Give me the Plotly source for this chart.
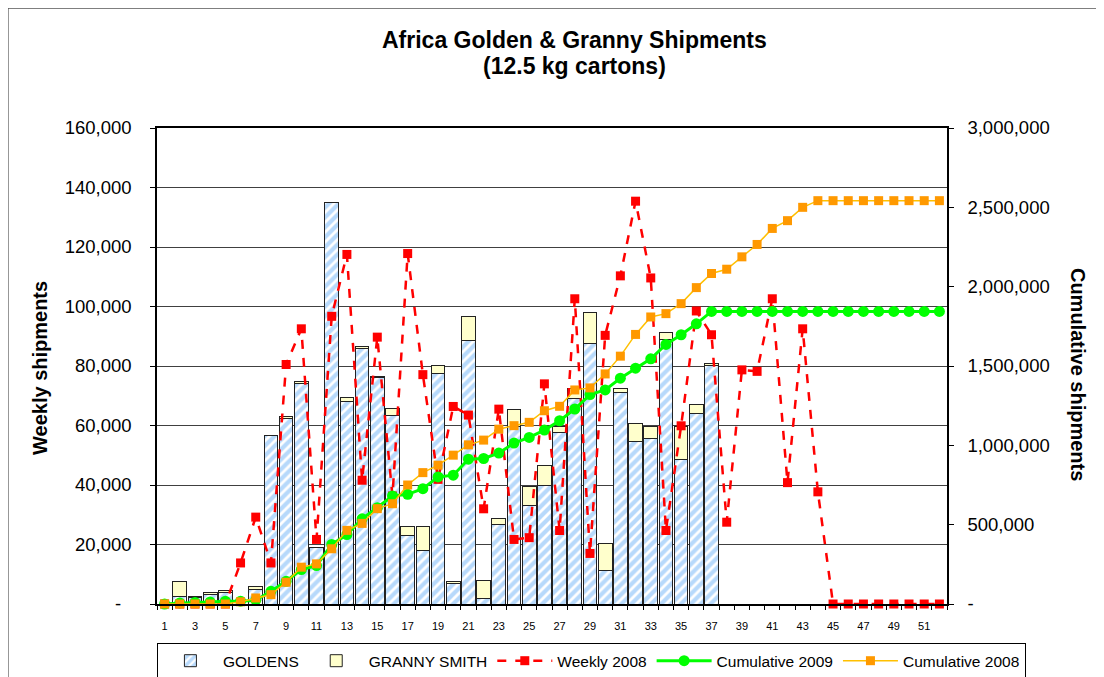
import plotly.graph_objects as go

weeks = list(range(1, 53))
week_labels = [str(w) if w % 2 == 1 else "" for w in weeks]

goldens = [0, 2500, 2200, 3300, 4000, 0, 4900, 56500, 62500, 74000, 19000, 135000,
           68000, 86000, 76000, 63400, 23000, 18000, 77600, 6800, 88500, 2000, 26700,
           59500, 33000, 40000, 57500, 69000, 87500, 11300, 71200, 54700, 55800, 89000,
           48500, 64000, 80100] + [0] * 15
granny = [0, 5000, 400, 500, 700, 0, 1100, 0, 500, 700, 0, 0, 1500, 600, 500, 2200,
          3000, 8000, 2500, 600, 8200, 6000, 2200, 6000, 6500, 6500, 2000, 3500, 10500,
          9200, 1400, 6100, 4000, 2300, 11200, 3000, 600] + [0] * 15
weekly_2008 = [0, 0, 0, 0, 0, 13800, 29200, 13800, 80500, 92500, 21700, 96700, 117500,
               41600, 89700, 36300, 117800, 77100, 41900, 66400, 63500, 32000, 65500,
               21700, 22300, 74000, 24700, 102600, 17000, 90300, 110300, 135400, 109600,
               24700, 59900, 98500, 90500, 27500, 78700, 78200, 102600, 40800, 92500,
               37700, 0, 0, 0, 0, 0, 0, 0, 0]
cum_2009 = [0, 7000, 9500, 13000, 18000, 18000, 24000, 80000, 143000, 217000, 242000,
            375000, 438000, 537000, 607000, 681000, 691000, 727000, 801000, 812000,
            913000, 917000, 951000, 1014000, 1050000, 1096000, 1155000, 1229000,
            1320000, 1349000, 1423000, 1486000, 1545000, 1636000, 1697000, 1766000,
            1844000, 1844000, 1844000, 1844000, 1844000, 1844000, 1844000, 1844000,
            1844000, 1844000, 1844000, 1844000, 1844000, 1844000, 1844000, 1844000]
cum_2008 = [0, 0, 0, 0, 0, 14000, 38000, 59000, 137000, 232000, 253000, 348000, 464000,
            508000, 601000, 632000, 750000, 828000, 875000, 938000, 1003000, 1033000,
            1102000, 1124000, 1145000, 1218000, 1246000, 1349000, 1362000, 1450000,
            1562000, 1699000, 1809000, 1830000, 1893000, 1994000, 2083000, 2110000,
            2188000, 2266000, 2367000, 2416000, 2500000, 2542000, 2542000, 2542000,
            2542000, 2542000, 2542000, 2542000, 2542000, 2542000]

left_ticks = [0, 20000, 40000, 60000, 80000, 100000, 120000, 140000, 160000]
left_text = ["-\u00a0\u00a0", "20,000", "40,000", "60,000", "80,000", "100,000",
             "120,000", "140,000", "160,000"]
right_ticks = [0, 500000, 1000000, 1500000, 2000000, 2500000, 3000000]
right_text = ["-", "500,000", "1,000,000", "1,500,000", "2,000,000",
              "2,500,000", "3,000,000"]

FONT = "Liberation Sans, Arial, sans-serif"

fig = go.Figure()
fig.add_trace(go.Bar(
    x=weeks, y=goldens, name="GOLDENS",
    marker=dict(color="white",
                pattern=dict(shape="/", fgcolor="#6FB3F7", bgcolor="white",
                             size=7, solidity=0.6),
                line=dict(color="#222222", width=1)),
))
fig.add_trace(go.Bar(
    x=weeks, y=granny, name="GRANNY SMITH",
    marker=dict(color="#FFFFCC", line=dict(color="#222222", width=1)),
))
fig.add_trace(go.Scatter(
    x=weeks, y=weekly_2008, name="Weekly 2008", mode="lines+markers",
    line=dict(color="#FF0000", width=2.5, dash="dash"),
    marker=dict(symbol="square", size=9, color="#FF0000"),
    cliponaxis=False,
))
fig.add_trace(go.Scatter(
    x=weeks, y=cum_2009, name="Cumulative 2009", mode="lines+markers", yaxis="y2",
    line=dict(color="#00FF00", width=3),
    marker=dict(symbol="circle", size=11, color="#00FF00"),
    cliponaxis=False,
))
fig.add_trace(go.Scatter(
    x=weeks, y=cum_2008, name="Cumulative 2008", mode="lines+markers", yaxis="y2",
    line=dict(color="#FFC000", width=1.5),
    marker=dict(symbol="square", size=9, color="#FF9900"),
    cliponaxis=False,
))

fig.update_layout(
    width=1096, height=669,
    margin=dict(l=149, r=157, t=120, b=73, autoexpand=False),
    paper_bgcolor="white", plot_bgcolor="white",
    font=dict(family=FONT, color="black"),
    barmode="stack", bargap=0.1,
    showlegend=True,
    legend=dict(orientation="h", x=-0.0001, xanchor="left",
                y=-0.12, yanchor="middle",
                bgcolor="white", bordercolor="black", borderwidth=1, itemwidth=55,
                font=dict(size=15.5, family=FONT), traceorder="normal"),
    xaxis=dict(range=[0.5, 52.5], tickmode="array", tickvals=weeks, ticktext=week_labels,
               ticks="", tickfont=dict(size=11), showgrid=False, zeroline=False,
               showline=True, linecolor="black", linewidth=1.5, mirror=True,
               ticklabelstandoff=11, automargin=False,
               minor=dict(tickmode="array", tickvals=[w + 0.5 for w in [0] + weeks],
                          ticks="outside", ticklen=4, tickcolor="black", showgrid=False)),
    yaxis=dict(range=[0, 160000], tickmode="array", tickvals=left_ticks, ticktext=left_text,
               ticks="outside", ticklen=5, tickcolor="black", tickfont=dict(size=18.5),
               showgrid=True, gridcolor="#404040", gridwidth=1, zeroline=False,
               showline=True, linecolor="black", linewidth=1.5, ticklabelstandoff=15,
               automargin=False),
    yaxis2=dict(range=[0, 3000000], overlaying="y", side="right", tickmode="array",
                tickvals=right_ticks, ticktext=right_text, ticks="outside", ticklen=5,
                tickcolor="black", tickfont=dict(size=18.5), showgrid=False,
                zeroline=False, showline=True, linecolor="black", linewidth=1.5,
                ticklabelstandoff=10, automargin=False),
)

fig.add_annotation(text="<b>Africa Golden & Granny Shipments</b>", xref="paper", yref="paper",
                   x=0.528, y=1.185, xanchor="center", yanchor="middle", showarrow=False,
                   font=dict(size=23, family=FONT))
fig.add_annotation(text="<b>(12.5 kg cartons)</b>", xref="paper", yref="paper",
                   x=0.528, y=1.130, xanchor="center", yanchor="middle", showarrow=False,
                   font=dict(size=23, family=FONT))
fig.add_annotation(text="<b>Weekly shipments</b>", xref="paper", yref="paper",
                   x=-0.148, y=0.496, xanchor="center", yanchor="middle", showarrow=False,
                   textangle=-90, font=dict(size=20, family=FONT))
fig.add_annotation(text="<b>Cumulative shipments</b>", xref="paper", yref="paper",
                   x=1.166, y=0.483, xanchor="center", yanchor="middle", showarrow=False,
                   textangle=90, font=dict(size=20, family=FONT))

# outer chart frame (figure edge)
fig.add_shape(type="rect", xref="paper", yref="paper", x0=-0.1886, x1=1.25, y0=-0.25,
              y1=1.252, line=dict(color="#555555", width=1.2), fillcolor="rgba(0,0,0,0)",
              layer="below")

fig.write_html("out.html")
